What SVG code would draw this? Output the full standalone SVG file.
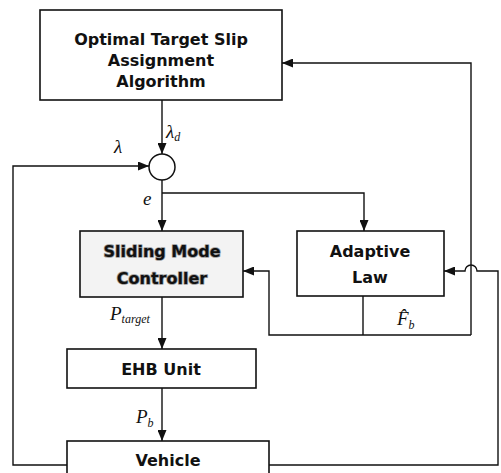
<svg xmlns="http://www.w3.org/2000/svg" width="501" height="473" viewBox="0 0 501 473">
  <style>
    .box { fill: #ffffff; stroke: #111111; stroke-width: 1.6; }
    .shaded { fill: #f3f3f3; stroke: #111111; stroke-width: 1.6; }
    .lbl { font-family: "DejaVu Sans", Verdana, sans-serif; font-weight: bold; font-size: 16px; fill: #111111; text-anchor: middle; }
    .halo { stroke: #9a9a9a; stroke-width: 1.6; paint-order: stroke; stroke-linejoin: round; }
    .wire { fill: none; stroke: #111111; stroke-width: 1.4; }
    .math { font-family: "Liberation Serif", "Times New Roman", serif; font-style: italic; font-size: 19px; fill: #111111; }
    .sub { font-size: 12px; }
  </style>
  <defs>
    <marker id="arr" viewBox="0 0 11 9" refX="11" refY="4.5" markerWidth="11" markerHeight="9" markerUnits="userSpaceOnUse" orient="auto">
      <path d="M0,0 L11,4.5 L0,9 z" fill="#111111"/>
    </marker>
  </defs>

  <!-- connectors -->
  <g id="connectors">
    <!-- desired slip into summing junction -->
    <path class="wire" d="M162,100 V154" marker-end="url(#arr)"/>
    <!-- measured slip feedback from vehicle -->
    <path class="wire" d="M67,465 H13 V166 H149" marker-end="url(#arr)"/>
    <!-- error to sliding mode controller -->
    <path class="wire" d="M162,180 V231" marker-end="url(#arr)"/>
    <!-- error to adaptive law -->
    <path class="wire" d="M162,193 H364 V231" marker-end="url(#arr)"/>
    <!-- estimated braking force output -->
    <path class="wire" d="M363,296 V335"/>
    <path class="wire" d="M471,335 H269 V271 H243" marker-end="url(#arr)"/>
    <path class="wire" d="M471,335 V63 H282" marker-end="url(#arr)"/>
    <!-- vehicle states back to adaptive law, hopping over the estimate line -->
    <path class="wire" d="M269,465 H498 V271 H477 A6,6 0 0 0 465,271 H444" marker-end="url(#arr)"/>
    <!-- controller to actuator to vehicle -->
    <path class="wire" d="M162,297 V349" marker-end="url(#arr)"/>
    <path class="wire" d="M162,388 V441" marker-end="url(#arr)"/>

    <!-- signal labels -->
    <text class="math" x="166" y="138">λ<tspan class="sub" dy="3">d</tspan></text>
    <text class="math" x="114" y="153">λ</text>
    <text class="math" x="143" y="205">e</text>
    <text class="math" x="110" y="320">P<tspan class="sub" dy="3">target</tspan></text>
    <text class="math" x="136" y="423">P<tspan class="sub" dy="4">b</tspan></text>
    <text class="math" x="397" y="325">F̂<tspan class="sub" dy="4">b</tspan></text>
  </g>

  <g id="slip-assignment">
    <rect class="box" x="40" y="10" width="242" height="90"/>
    <text class="lbl" x="161" y="45">Optimal Target Slip</text>
    <text class="lbl" x="161" y="66">Assignment</text>
    <text class="lbl" x="161" y="87">Algorithm</text>
  </g>

  <g id="summing-junction">
    <circle cx="162" cy="167" r="13" fill="#ffffff" stroke="#111111" stroke-width="1.5"/>
  </g>

  <g id="sliding-mode-controller">
    <rect class="shaded" x="80" y="231" width="163" height="66"/>
    <text class="lbl halo" x="162" y="257">Sliding Mode</text>
    <text class="lbl halo" x="162" y="284">Controller</text>
  </g>

  <g id="adaptive-law">
    <rect class="box" x="297" y="231" width="147" height="65"/>
    <text class="lbl" x="370" y="257">Adaptive</text>
    <text class="lbl" x="370" y="283">Law</text>
  </g>

  <g id="ehb-unit">
    <rect class="box" x="67" y="349" width="189" height="39"/>
    <text class="lbl" x="161" y="375">EHB Unit</text>
  </g>

  <g id="vehicle">
    <rect class="box" x="67" y="441" width="202" height="45"/>
    <text class="lbl" x="168" y="466">Vehicle</text>
  </g>
</svg>
